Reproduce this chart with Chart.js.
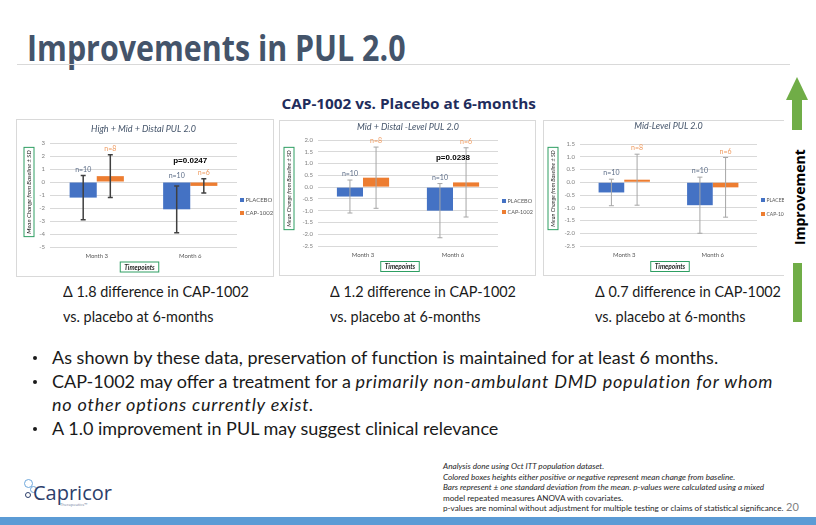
<!DOCTYPE html>
<html>
<head>
<meta charset="utf-8">
<title>Improvements in PUL 2.0</title>
<script src="https://cdn.jsdelivr.net/npm/chart.js@4.4.1/dist/chart.umd.min.js"></script>
<style>
  html, body { margin: 0; padding: 0; }
  body { width: 816px; height: 525px; position: relative; overflow: hidden; background: #fff; font-family: Lato, 'Open Sans', sans-serif; color: #262626; }
  .abs { position: absolute; white-space: nowrap; }
  .sq { display: inline-block; transform-origin: 0 0; }
  .panel { position: absolute; box-sizing: border-box; border: 1px solid #d9d9d9; background: #fff; overflow: hidden; }
  .panel .inner { position: absolute; left: 0; top: 0; }
  .delta { font: 400 16px/25px Lato, sans-serif; color: #1a1a1a; }
  .bullets { font: 400 18px/23.5px Lato, sans-serif; color: #1a1a1a; }
  .bullets i { letter-spacing: 0.8px; }
  .dot { position: absolute; width: 4px; height: 4px; border-radius: 50%; background: #1a1a1a; }
  .note { font: 400 8px/10.5px Lato, sans-serif; color: #262626; }
</style>
</head>
<body>

<div class="abs" style="left:27px;top:30px"><span class="sq" style="font:700 35px/1 'Open Sans';color:#44546a;transform:scaleX(0.868)">Improvements in PUL 2.0</span></div>
<div class="abs" style="left:17px;top:64px;width:773px;height:1px;background:#d9d9d9"></div>

<div class="abs" style="left:0;width:818px;top:93px;text-align:center"><span class="sq" style="font:700 15px/1 'Open Sans';color:#1f2d5c;transform:scaleX(1.02);transform-origin:50% 0">CAP-1002 vs. Placebo at 6-months</span></div>

<div class="panel" style="left:16px;top:119px;width:258px;height:158px"><div class="inner" style="width:256px;height:156px"><canvas id="chartHMD"></canvas></div></div>
<div class="panel" style="left:279px;top:120px;width:257px;height:156px"><div class="inner" style="width:255px;height:154px"><canvas id="chartMidDistal"></canvas></div></div>
<div class="panel" style="left:543px;top:120px;width:241px;height:156px;border-right:none"><div class="inner" style="width:260px;height:154px"><canvas id="chartMid"></canvas></div></div>

<!-- improvement arrow -->
<div class="abs" style="left:786px;top:77px;width:0;height:0;border-left:11.5px solid transparent;border-right:11.5px solid transparent;border-bottom:23px solid #70ad47"></div>
<div class="abs" style="left:792px;top:99px;width:10px;height:31px;background:#70ad47"></div>
<div class="abs" style="left:750px;top:188px;width:100px;text-align:center;transform:rotate(-90deg);font:700 14px/18px 'Open Sans';color:#000">Improvement</div>
<div class="abs" style="left:793px;top:263px;width:9px;height:59px;background:#70ad47"></div>

<div class="abs delta" style="left:63px;top:278px"><span class="sq" style="transform:scaleX(0.9)">&Delta; 1.8 difference in CAP-1002<br>vs. placebo at 6-months</span></div>
<div class="abs delta" style="left:330px;top:278px"><span class="sq" style="transform:scaleX(0.9)">&Delta; 1.2 difference in CAP-1002<br>vs. placebo at 6-months</span></div>
<div class="abs delta" style="left:595px;top:278px"><span class="sq" style="transform:scaleX(0.9)">&Delta; 0.7 difference in CAP-1002<br>vs. placebo at 6-months</span></div>

<div class="dot" style="left:33px;top:356px"></div>
<div class="dot" style="left:33px;top:380px"></div>
<div class="dot" style="left:33px;top:427px"></div>
<div class="abs bullets" style="left:52px;top:346px">As shown by these data, preservation of function is maintained for at least 6 months.<br>CAP-1002 may offer a treatment for a <i>primarily non-ambulant DMD population for whom</i><br><i>no other options currently exist.</i><br>A 1.0 improvement in PUL may suggest clinical relevance</div>

<div class="abs note" style="left:443px;top:461px"><span class="sq" style="transform:scaleX(1.02)"><i>Analysis done using Oct ITT population dataset.</i><br><i>Colored boxes heights either positive or negative represent mean change from baseline.</i><br><i>Bars represent &plusmn; one standard deviation from the mean. p-values were calculated using a mixed</i><br>model repeated measures ANOVA with covariates.<br>p-values are nominal without adjustment for multiple testing or claims of statistical significance.</span></div>
<div class="abs" style="left:786px;top:500px;font:400 11px/14px Lato;color:#7f7f7f">20</div>

<!-- logo -->
<div class="abs" style="left:24px;top:479px;width:7px;height:7px;border:1px solid #6fa8dc;border-radius:50%"></div>
<div class="abs" style="left:30px;top:486px;width:5px;height:5px;border:1px solid #6fa8dc;border-radius:50%"></div>
<div class="abs" style="left:25px;top:492px;width:4px;height:4px;border:1px solid #2c3e6b;border-radius:50%"></div>
<div class="abs" style="left:33px;top:481px;font:400 20px/24px 'Open Sans';color:#2c3e6b">Capricor</div>
<div class="abs" style="left:60px;top:502px;font:400 4px/5px 'Open Sans';color:#6b7a99">Therapeutics&trade;</div>

<div class="abs" style="left:0;top:517px;width:816px;height:8px;background:#5b9bd5"></div>

<script>
// categories and series
const timepoints = ['Month 3', 'Month 6'];
const seriesNames = ['PLACEBO', 'CAP-1002'];
const placeboN = [10, 10];
const capN = [8, 6];

// High + Mid + Distal PUL 2.0: mean change from baseline and SD
const hmdPlacebo = [-1.2, -2.1];
const hmdPlaceboSd = [1.7, 1.8];
const hmdCap = [0.45, -0.3];
const hmdCapSd = [1.65, 0.55];

// Mid + Distal-Level PUL 2.0
const midDistalPlacebo = [-0.4, -1.0];
const midDistalPlaceboSd = [0.7, 1.15];
const midDistalCap = [0.4, 0.2];
const midDistalCapSd = [1.3, 1.47];

// Mid-Level PUL 2.0
const midPlacebo = [-0.4, -0.9];
const midPlaceboSd = [0.52, 1.1];
const midCap = [0.1, -0.2];
const midCapSd = [1.0, 1.17];

// p-values at month 6
const pHMD = 'p=0.0247';
const pMidDistal = 'p=0.0238';

const yTitle = 'Mean Change from Baseline \u00b1 SD';
const xTitle = 'Timepoints';

// error bars, n= labels and p-value text
const errorBars = {
  id: 'errorBars',
  afterDatasetsDraw(chart, args, opts) {
    const ctx = chart.ctx;
    const y = chart.scales.y;
    chart.data.datasets.forEach((ds, i) => {
      chart.getDatasetMeta(i).data.forEach((bar, j) => {
        const m = ds.data[j];
        const sd = ds.sd[j];
        const top = y.getPixelForValue(m + sd);
        const bot = y.getPixelForValue(m - sd);
        ctx.save();
        ctx.strokeStyle = opts.color;
        ctx.lineWidth = opts.width;
        ctx.beginPath();
        ctx.moveTo(bar.x, top);
        ctx.lineTo(bar.x, bot);
        ctx.moveTo(bar.x - opts.cap, top);
        ctx.lineTo(bar.x + opts.cap, top);
        ctx.moveTo(bar.x - opts.cap, bot);
        ctx.lineTo(bar.x + opts.cap, bot);
        ctx.stroke();
        ctx.fillStyle = ds.nColor;
        ctx.font = '7px Lato';
        ctx.textAlign = 'center';
        ctx.textBaseline = 'middle';
        ctx.fillText('n=' + ds.n[j], bar.x, y.getPixelForValue(Math.max(0, m + sd)) - 6);
        ctx.restore();
      });
    });
    if (opts.pText) {
      const x = chart.scales.x.getPixelForValue(1);
      ctx.save();
      ctx.fillStyle = '#000';
      ctx.font = 'bold 8px "Liberation Sans"';
      ctx.textAlign = 'center';
      ctx.textBaseline = 'middle';
      ctx.fillText(opts.pText, x, y.getPixelForValue(opts.pAt));
      ctx.restore();
    }
  },
};

// axis titles inside green boxes
const boxedTitles = {
  id: 'boxedTitles',
  afterDraw(chart, args, opts) {
    const ctx = chart.ctx;
    const a = chart.chartArea;
    ctx.save();
    ctx.strokeStyle = '#2e9e62';
    ctx.lineWidth = 1;
    ctx.textAlign = 'center';
    ctx.textBaseline = 'middle';
    ctx.fillStyle = '#262626';

    ctx.font = 'italic ' + opts.yFont + 'px Lato';
    ctx.save();
    ctx.translate(opts.yX, (a.top + a.bottom) / 2 + opts.yShift);
    ctx.rotate(-Math.PI / 2);
    let w = ctx.measureText(yTitle).width + 6;
    ctx.strokeRect(-w / 2, -5, w, 10);
    ctx.fillText(yTitle, 0, 0.5);
    ctx.restore();

    ctx.font = 'italic bold 6.5px Lato';
    const cx = (a.left + a.right) / 2 + opts.xShift;
    w = ctx.measureText(xTitle).width + 8;
    ctx.strokeRect(cx - w / 2, opts.xY - 5, w, 10);
    ctx.fillText(xTitle, cx, opts.xY + 0.5);
    ctx.restore();
  },
};

// small legend to the right of the plot, as in the Excel charts
const sideLegend = {
  id: 'sideLegend',
  afterDraw(chart, args, opts) {
    const ctx = chart.ctx;
    const x = chart.chartArea.right + opts.gap;
    ctx.save();
    ctx.font = opts.font + 'px Lato';
    ctx.textAlign = 'left';
    ctx.textBaseline = 'middle';
    chart.data.datasets.forEach((ds, i) => {
      const y = opts.y + i * opts.step;
      ctx.fillStyle = ds.backgroundColor;
      ctx.fillRect(x, y - 2, 4, 4);
      ctx.fillStyle = '#595959';
      ctx.fillText(ds.label, x + 5.5, y + 0.5);
    });
    ctx.restore();
  },
};

function makeChart(id, c) {
  return new Chart(document.getElementById(id), {
    type: 'bar',
    data: {
      labels: timepoints,
      datasets: [
        { label: seriesNames[0], data: c.placebo, sd: c.placeboSd, n: placeboN, nColor: '#5a6b86', backgroundColor: '#4472c4' },
        { label: seriesNames[1], data: c.cap, sd: c.capSd, n: capN, nColor: '#ef9a5e', backgroundColor: '#ed7d31' },
      ],
    },
    options: {
      responsive: true,
      maintainAspectRatio: false,
      animation: false,
      categoryPercentage: 0.58,
      barPercentage: 1,
      layout: { padding: { left: c.padLeft, right: c.padRight, top: 0, bottom: 18 } },
      scales: {
        x: {
          grid: { display: false, drawTicks: false },
          border: { display: false },
          ticks: { font: { size: 6, family: 'Lato' }, color: '#595959', padding: 5 },
          afterFit: (s) => { s.height = 11; },
        },
        y: {
          min: c.min,
          max: c.max,
          grid: { color: '#d9d9d9', drawTicks: false },
          border: { display: false },
          ticks: {
            stepSize: c.step,
            font: { size: 6, family: 'Lato' },
            color: '#7f7f7f',
            padding: 5,
            callback: (v) => (c.step < 1 ? v.toFixed(1) : v),
          },
          afterFit: (s) => { s.width = c.yWidth; },
        },
      },
      plugins: {
        title: {
          display: true,
          fullSize: false,
          text: c.title,
          color: '#44546a',
          font: { size: 9, style: 'italic', family: 'Lato', weight: 'normal', lineHeight: 1.2 },
          padding: { top: c.titleTop, bottom: c.titleBottom },
        },
        legend: { display: false },
        tooltip: { enabled: false },
        errorBars: { color: c.barColor, width: c.barWidth, cap: 2.5, pText: c.pText, pAt: c.pAt },
        boxedTitles: c.boxes,
        sideLegend: c.legend,
      },
    },
    plugins: [errorBars, boxedTitles, sideLegend],
  });
}

makeChart('chartHMD', {
  title: 'High + Mid + Distal PUL 2.0',
  placebo: hmdPlacebo, placeboSd: hmdPlaceboSd, cap: hmdCap, capSd: hmdCapSd,
  min: -5, max: 3, step: 1, yWidth: 14, padLeft: 19, padRight: 36,
  titleTop: 3.6, titleBottom: 8.6,
  legend: { gap: 3, y: 80, step: 13, font: 6 },
  boxes: { yX: 12, yShift: -3, yFont: 6, xShift: -4, xY: 147 },
  barColor: '#404040', barWidth: 1.5, pText: pHMD, pAt: 1.6,
});

makeChart('chartMidDistal', {
  title: 'Mid + Distal -Level PUL 2.0',
  placebo: midDistalPlacebo, placeboSd: midDistalPlaceboSd, cap: midDistalCap, capSd: midDistalCapSd,
  min: -2.5, max: 2.0, step: 0.5, yWidth: 19, padLeft: 19, padRight: 37,
  titleTop: 0.6, titleBottom: 7.6,
  legend: { gap: 4, y: 80, step: 11, font: 5.5 },
  boxes: { yX: 9, yShift: -4.5, yFont: 5.5, xShift: -8, xY: 145.5 },
  barColor: '#a6a6a6', barWidth: 1, pText: pMidDistal, pAt: 1.24,
});

makeChart('chartMid', {
  title: 'Mid-Level PUL 2.0',
  placebo: midPlacebo, placeboSd: midPlaceboSd, cap: midCap, capSd: midCapSd,
  min: -2.5, max: 1.5, step: 0.5, yWidth: 19, padLeft: 17, padRight: 47,
  titleTop: 0, titleBottom: 12.2,
  legend: { gap: 4, y: 79, step: 14, font: 5 },
  boxes: { yX: 9, yShift: -6.5, yFont: 5.5, xShift: 1.5, xY: 145.5 },
  barColor: '#a6a6a6', barWidth: 1,
});
</script>
</body>
</html>
